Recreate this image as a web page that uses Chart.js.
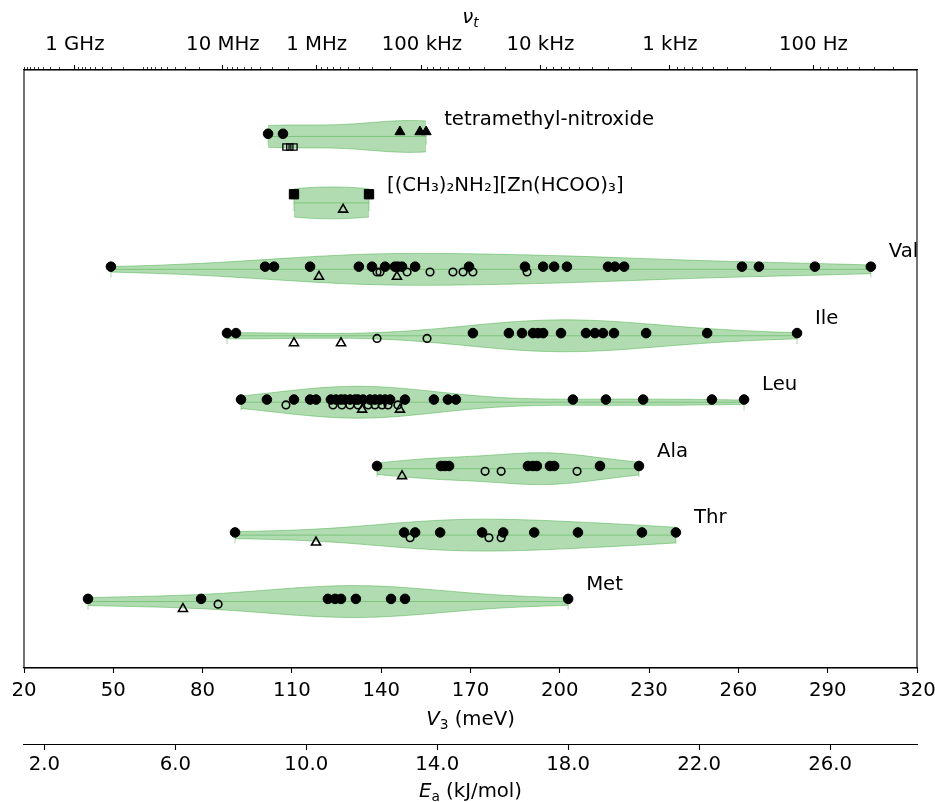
<!DOCTYPE html>
<html>
<head>
<meta charset="utf-8">
<script src="https://cdn.jsdelivr.net/npm/chart.js@4.4.0/dist/chart.umd.min.js"></script>
<style>
  html, body { margin: 0; padding: 0; background: #fff; }
  #wrap { width: 935px; height: 802px; }
</style>
</head>
<body>
<div id="wrap"><canvas id="chart" width="935" height="802"></canvas></div>
<script>
// rows from bottom (0) to top (7)
const categories = ["Met", "Thr", "Ala", "Leu", "Ile", "Val", "[(CH₃)₂NH₂][Zn(HCOO)₃]", "tetramethyl-nitroxide"];

// V3 barriers in meV
const metFilled = [41.5, 79.5, 122.1, 124.5, 126.5, 131.5, 143.3, 148.0, 202.8];
const metOpen = [85.2];
const metTriangle = [73.4];

const thrFilled = [90.9, 147.7, 151.4, 159.8, 173.9, 181.0, 191.4, 206.1, 227.6, 239.0];
const thrOpen = [149.7, 176.2, 180.3];
const thrTriangle = [118.1];

const alaFilled = [138.6, 160.1, 161.4, 162.8, 189.3, 191.0, 192.3, 196.7, 198.1, 213.5, 226.6];
const alaOpen = [174.9, 180.3, 205.8];
const alaTriangle = [147.0];

const leuFilled = [92.9, 101.6, 110.7, 116.1, 118.1, 123.1, 124.8, 126.5, 127.8, 129.5, 131.2, 132.2, 133.9,
  136.2, 137.9, 139.6, 141.3, 143.0, 148.0, 157.7, 162.4, 165.1, 204.4, 215.5, 228.0, 251.1, 261.9];
const leuOpen = [108.0, 123.8, 126.8, 129.5, 132.2, 135.6, 137.9, 140.3, 142.3, 145.6];
const leuTriangle = [133.6, 146.3];

const ileFilled = [88.2, 91.2, 170.8, 182.9, 187.3, 191.0, 192.7, 194.4, 200.4, 208.8, 211.8, 214.5, 218.2,
  229.0, 249.5, 279.7];
const ileOpen = [138.6, 155.4];
const ileTriangle = [110.7, 126.5];

const valFilled = [49.2, 101.0, 104.0, 116.1, 132.5, 136.9, 141.3, 144.6, 145.6, 147.0, 151.4, 169.5, 188.3,
  194.4, 198.1, 202.4, 216.2, 218.5, 221.6, 261.2, 266.9, 285.7, 304.5];
const valOpen = [138.6, 139.6, 148.7, 156.4, 164.1, 167.5, 170.8, 189.0];
const valTriangle = [119.1, 145.3];

const dmazSquare = [110.7, 135.9];
const dmazTriangle = [127.2];

const tmnFilled = [102.0, 107.0];
const tmnFilledTriangle = [146.3, 153.0, 155.1];
const tmnOpenSquare = [108.0, 109.3, 110.7];

// bottom V3 ticks
const v3Ticks = [20, 50, 80, 110, 140, 170, 200, 230, 260, 290, 320];

// Ea axis: two reference ticks and where they sit on the V3 scale
const eaTicks = [2, 6, 10, 14, 18, 22, 26];
const eaRefValues = [2.0, 26.0];
const eaRefV3 = [26.85, 290.8];

// tunnelling frequency axis: decade exponents and their V3 position
const decadeExp = [10, 9, 8, 7, 6, 5, 4, 3, 2, 1];
const decadeV3 = [19.3, 37.1, 60.0, 86.8, 118.3, 153.7, 193.5, 237.0, 285.2, 336.2];
const freqLabelExp = [9, 7, 6, 5, 4, 3, 2];
const freqLabels = ["1 GHz", "10 MHz", "1 MHz", "100 kHz", "10 kHz", "1 kHz", "100 Hz"];

const FONT = "DejaVu Sans";
const FONT_SIZE = 19.7;
const GREEN = "rgba(60, 168, 60, 0.40)";
const GREEN_EDGE = "rgba(60, 168, 60, 0.45)";

// "solid" sets feed the violin density, open markers are overlaid only
const markerSets = [
  { row: 0, values: metFilled, kind: "filled", solid: true },
  { row: 0, values: metOpen, kind: "open" },
  { row: 0, values: metTriangle, kind: "triangle" },
  { row: 1, values: thrFilled, kind: "filled", solid: true },
  { row: 1, values: thrOpen, kind: "open" },
  { row: 1, values: thrTriangle, kind: "triangle" },
  { row: 2, values: alaFilled, kind: "filled", solid: true },
  { row: 2, values: alaOpen, kind: "open" },
  { row: 2, values: alaTriangle, kind: "triangle" },
  { row: 3, values: leuFilled, kind: "filled", solid: true },
  { row: 3, values: leuOpen, kind: "open" },
  { row: 3, values: leuTriangle, kind: "triangle" },
  { row: 4, values: ileFilled, kind: "filled", solid: true },
  { row: 4, values: ileOpen, kind: "open" },
  { row: 4, values: ileTriangle, kind: "triangle" },
  { row: 5, values: valFilled, kind: "filled", solid: true },
  { row: 5, values: valOpen, kind: "open" },
  { row: 5, values: valTriangle, kind: "triangle" },
  { row: 6, values: dmazSquare, kind: "filledSquare", solid: true },
  { row: 6, values: dmazTriangle, kind: "triangleLow" },
  { row: 7, values: tmnFilled, kind: "filled", solid: true },
  { row: 7, values: tmnFilledTriangle, kind: "filledTriangle", solid: true },
  { row: 7, values: tmnOpenSquare, kind: "openSquare" },
];

const markerStyle = {
  filled:         { dy: 0.04,  pointStyle: "circle",   radius: 4.8, fill: true,  bw: 1 },
  open:           { dy: -0.04, pointStyle: "circle",   radius: 3.8, fill: false, bw: 1.6 },
  triangle:       { dy: -0.11, pointStyle: "triangle", radius: 5.2, fill: false, bw: 1.6 },
  triangleLow:    { dy: -0.10, pointStyle: "triangle", radius: 5.2, fill: false, bw: 1.6 },
  filledTriangle: { dy: 0.07,  pointStyle: "triangle", radius: 5.8, fill: true,  bw: 1 },
  filledSquare:   { dy: 0.13,  pointStyle: "rect",     radius: 6.6, fill: true,  bw: 1 },
  openSquare:     { dy: -0.16, pointStyle: "rect",     radius: 4.4, fill: false, bw: 1.3 },
};

function eaFromV3(v) {
  const k = (eaRefValues[1] - eaRefValues[0]) / (eaRefV3[1] - eaRefV3[0]);
  return eaRefValues[0] + (v - eaRefV3[0]) * k;
}

function v3FromLogFreq(lg) {
  for (let i = 0; i < decadeExp.length - 1; i++) {
    const hi = decadeExp[i], lo = decadeExp[i + 1];
    if (lg <= hi && lg >= lo) {
      return decadeV3[i + 1] + (lg - lo) * (decadeV3[i] - decadeV3[i + 1]);
    }
  }
  return NaN;
}

const majorFreqV3 = freqLabelExp.map(e => v3FromLogFreq(e));
const minorFreqV3 = [];
for (let e = 1; e < 10; e++) {
  for (let k = 1; k <= 9; k++) {
    if (k === 1 && freqLabelExp.includes(e)) continue;
    const v = v3FromLogFreq(e + Math.log10(k));
    if (v >= 20 && v <= 320) minorFreqV3.push(v);
  }
}

// gaussian KDE with Scott's bandwidth, as matplotlib's violinplot does
function violinProfile(values, n) {
  const m = values.length;
  const mean = values.reduce((a, b) => a + b, 0) / m;
  const sd = Math.sqrt(values.reduce((a, b) => a + (b - mean) ** 2, 0) / (m - 1));
  const bw = sd * Math.pow(m, -1 / 5);
  const lo = Math.min(...values), hi = Math.max(...values);
  const xs = [], ds = [];
  for (let i = 0; i < n; i++) {
    const x = lo + (hi - lo) * i / (n - 1);
    let d = 0;
    for (const v of values) d += Math.exp(-0.5 * ((x - v) / bw) ** 2);
    xs.push(x);
    ds.push(d);
  }
  const dmax = Math.max(...ds);
  return { xs, ds: ds.map(d => d / dmax), lo, hi };
}

const datasets = [];
const rowStats = [];
categories.forEach((name, row) => {
  const solid = markerSets.filter(s => s.row === row && s.solid).flatMap(s => s.values);
  const p = violinProfile(solid, 100);
  const half = 0.24;
  rowStats.push({ row, hi: p.hi });
  datasets.push({
    type: "line", order: 20,
    data: p.xs.map((x, i) => ({ x, y: row + half * p.ds[i] })),
    borderColor: GREEN_EDGE, borderWidth: 1, pointRadius: 0, fill: false, tension: 0,
  });
  datasets.push({
    type: "line", order: 20,
    data: p.xs.map((x, i) => ({ x, y: row - half * p.ds[i] })),
    borderColor: GREEN_EDGE, borderWidth: 1, pointRadius: 0, fill: "-1", backgroundColor: GREEN, tension: 0,
  });
  // extrema bars and centre line
  const e = 0.125;
  datasets.push({
    type: "line", order: 19,
    data: [
      { x: p.lo, y: row - e }, { x: p.lo, y: row + e }, { x: p.lo, y: null },
      { x: p.lo, y: row }, { x: p.hi, y: row }, { x: p.hi, y: null },
      { x: p.hi, y: row - e }, { x: p.hi, y: row + e },
    ],
    borderColor: GREEN_EDGE, borderWidth: 1, pointRadius: 0, fill: false, spanGaps: false,
  });
});

markerSets.forEach(set => {
  const st = markerStyle[set.kind];
  datasets.push({
    type: "scatter", order: 1,
    data: set.values.map(v => ({ x: v, y: set.row + st.dy })),
    pointStyle: st.pointStyle,
    pointRadius: st.radius,
    pointBorderWidth: st.bw,
    pointBorderColor: "#000",
    pointBackgroundColor: st.fill ? "#000" : "rgba(0,0,0,0)",
  });
});

function drawMath(ctx, parts, cx, cy, size) {
  const sub = size * 0.7;
  const fontOf = p => `${p.it ? "italic " : ""}${p.sub ? sub : size}px "${FONT}"`;
  let total = 0;
  const widths = parts.map(p => { ctx.font = fontOf(p); const w = ctx.measureText(p.t).width; total += w; return w; });
  let x = cx - total / 2;
  const base = cy + size * 0.36;
  ctx.textAlign = "left";
  ctx.textBaseline = "alphabetic";
  ctx.fillStyle = "#000";
  parts.forEach((p, i) => {
    ctx.font = fontOf(p);
    ctx.fillText(p.t, x, p.sub ? base + size * 0.22 : base);
    x += widths[i];
  });
}

const decorPlugin = {
  id: "decor",
  afterDraw(chart) {
    const { ctx, chartArea: a, scales } = chart;
    ctx.save();
    // frame
    ctx.strokeStyle = "#000";
    ctx.lineWidth = 1.1;
    ctx.strokeRect(a.left, a.top, a.right - a.left, a.bottom - a.top);
    // minor ticks on the frequency axis
    ctx.lineWidth = 0.8;
    minorFreqV3.forEach(v => {
      const px = Math.round(scales.xTop.getPixelForValue(v)) + 0.5;
      ctx.beginPath();
      ctx.moveTo(px, a.top);
      ctx.lineTo(px, a.top - 3);
      ctx.stroke();
    });
    // row names
    ctx.font = `${FONT_SIZE}px "${FONT}"`;
    ctx.fillStyle = "#000";
    ctx.textAlign = "left";
    ctx.textBaseline = "middle";
    rowStats.forEach(s => {
      const px = scales.x.getPixelForValue(s.hi) + 18;
      const py = scales.y.getPixelForValue(s.row) - 17;
      ctx.fillText(categories[s.row], px, py);
    });
    // axis titles
    const mid = (a.left + a.right) / 2;
    drawMath(ctx, [{ t: "ν", it: true }, { t: "t", it: true, sub: true }], mid, 16, FONT_SIZE);
    drawMath(ctx, [{ t: "V", it: true }, { t: "3", sub: true }, { t: " (meV)" }], mid, 718, FONT_SIZE);
    drawMath(ctx, [{ t: "E", it: true }, { t: "a", sub: true }, { t: " (kJ/mol)" }], mid, 790, FONT_SIZE);
    ctx.restore();
  },
};

const tickFont = { family: FONT, size: FONT_SIZE };
const axisGrid = { drawOnChartArea: false, drawTicks: true, tickLength: 5, tickColor: "#000", tickWidth: 1.1 };
const axisBorder = { display: true, color: "#000", width: 1.1 };

// keep the frame at a fixed size no matter how wide the end labels are
function fixBox(h) {
  return s => { s.height = h; s.paddingLeft = 0; s.paddingRight = 0; };
}

new Chart(document.getElementById("chart"), {
  type: "scatter",
  data: { datasets },
  plugins: [decorPlugin],
  options: {
    responsive: false,
    animation: false,
    layout: { padding: { left: 24, right: 18, top: 0, bottom: 0 } },
    plugins: { legend: { display: false }, tooltip: { enabled: false } },
    scales: {
      x: {
        type: "linear", position: "bottom", min: 20, max: 320, weight: 0,
        afterBuildTicks: s => { s.ticks = v3Ticks.map(v => ({ value: v })); },
        afterFit: fixBox(77),
        ticks: { autoSkip: false, maxRotation: 0, padding: 6, color: "#000", font: tickFont },
        grid: axisGrid, border: axisBorder,
      },
      xEa: {
        type: "linear", position: "bottom", min: eaFromV3(20), max: eaFromV3(320), weight: 1,
        afterBuildTicks: s => { s.ticks = eaTicks.map(v => ({ value: v })); },
        afterFit: fixBox(57),
        ticks: { autoSkip: false, maxRotation: 0, padding: 3, color: "#000", font: tickFont,
          callback: v => v.toFixed(1) },
        grid: axisGrid, border: axisBorder,
      },
      xTop: {
        type: "linear", position: "top", min: 20, max: 320,
        afterBuildTicks: s => { s.ticks = majorFreqV3.map(v => ({ value: v })); },
        afterFit: fixBox(70),
        ticks: { autoSkip: false, maxRotation: 0, padding: 8, color: "#000", font: tickFont,
          callback: (v, i) => freqLabels[i] },
        grid: axisGrid, border: axisBorder,
      },
      y: { type: "linear", min: -1, max: 8, display: false },
    },
  },
});
</script>
</body>
</html>
